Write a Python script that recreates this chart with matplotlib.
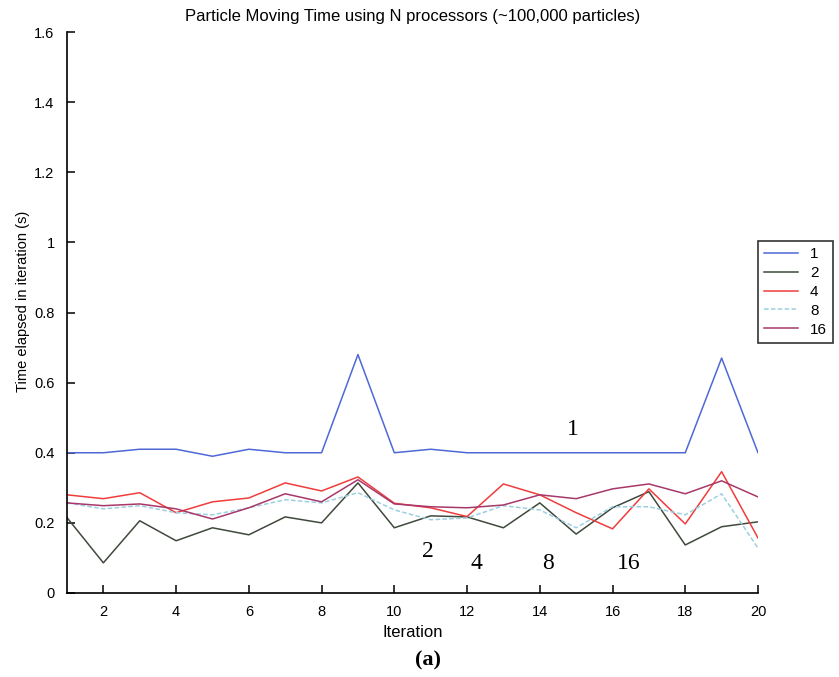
import matplotlib
matplotlib.use("Agg")
import matplotlib.pyplot as plt
import numpy as np

iterations = list(range(1, 21))
t_1 = [0.40, 0.40, 0.41, 0.41, 0.39, 0.41, 0.40, 0.40, 0.68, 0.40,
       0.41, 0.40, 0.40, 0.40, 0.40, 0.40, 0.40, 0.40, 0.67, 0.40]
t_2 = [0.215, 0.086, 0.206, 0.149, 0.186, 0.166, 0.217, 0.20, 0.314, 0.186,
       0.22, 0.217, 0.186, 0.257, 0.168, 0.243, 0.289, 0.137, 0.189, 0.203]
t_4 = [0.28, 0.269, 0.286, 0.229, 0.26, 0.271, 0.314, 0.291, 0.331, 0.256,
       0.243, 0.218, 0.311, 0.28, 0.229, 0.183, 0.297, 0.197, 0.346, 0.157]
t_8 = [0.257, 0.24, 0.249, 0.229, 0.223, 0.243, 0.266, 0.257, 0.286, 0.237,
       0.209, 0.214, 0.249, 0.237, 0.186, 0.246, 0.246, 0.223, 0.283, 0.128]
t_16 = [0.257, 0.249, 0.254, 0.24, 0.211, 0.243, 0.283, 0.26, 0.323, 0.254,
        0.246, 0.243, 0.251, 0.28, 0.269, 0.297, 0.311, 0.283, 0.32, 0.274]

labels = ["1", "2", "4", "8", "16"]
series = [t_1, t_2, t_4, t_8, t_16]
colors = ["#4f68d6", "#3f4a3c", "#f03c3c", "#9ccfe0", "#a8386a"]
styles = ["-", "-", "-", (0, (3, 1.5)), "-"]

ann_text = ["1", "2", "4", "8", "16"]
ann_x = [14.91, 10.93, 12.26, 14.22, 16.45]
ann_y = [0.466, 0.118, 0.085, 0.085, 0.085]

yticks = [0, 0.2, 0.4, 0.6, 0.8, 1.0, 1.2, 1.4, 1.6]
yticklabels = ["0", "0.2", "0.4", "0.6", "0.8", "1", "1.2", "1.4", "1.6"]
xticks = [2, 4, 6, 8, 10, 12, 14, 16, 18, 20]

sans = ["Liberation Sans Narrow", "Liberation Sans", "DejaVu Sans"]
serif = ["Liberation Serif", "DejaVu Serif"]

fig = plt.figure(figsize=(8.39, 6.77), dpi=100)
W, H = 839, 677
ax = fig.add_axes([67 / W, 1 - 593 / H, (758 - 67) / W, (593 - 32) / H])

for lab, ys, c, ls in zip(labels, series, colors, styles):
    ax.plot(iterations, ys, color=c, linestyle=ls, linewidth=1.1, label=lab)

ax.set_xlim(1, 20)
ax.set_ylim(0, 1.6)
ax.set_xticks(xticks)
ax.set_yticks(yticks)
ax.set_yticklabels(yticklabels)
for s in ["top", "right"]:
    ax.spines[s].set_visible(False)
for s in ["left", "bottom"]:
    ax.spines[s].set_linewidth(1.2)
ax.tick_params(direction="in", length=6, width=1.1, labelsize=10.5, pad=9)
for t in ax.get_xticklabels() + ax.get_yticklabels():
    t.set_fontfamily(sans)

ax.set_title("Particle Moving Time using N processors (~100,000 particles)",
             fontsize=12, family=sans, pad=8)
ax.set_xlabel("Iteration", fontsize=12, family=sans, labelpad=4)
ax.set_ylabel("Time elapsed in iteration (s)", fontsize=10.5, family=sans, labelpad=4)
ax.yaxis.set_label_coords(-0.053, 0.52)

for t, x, y in zip(ann_text, ann_x, ann_y):
    ax.text(x, y, t, fontsize=17, family=serif, ha="center", va="center")

fig.text(428 / W, 1 - 660 / H, "(a)", fontsize=16, family=serif,
         fontweight="bold", ha="center", va="center")

leg = ax.legend(loc="upper left", bbox_to_anchor=(758 / W, 1 - 241 / H),
                bbox_transform=fig.transFigure, borderaxespad=0,
                fancybox=False, frameon=True, edgecolor="black",
                handlelength=2.2, labelspacing=0.32, borderpad=0.4,
                prop={"family": sans, "size": 11})
leg.get_frame().set_linewidth(1.2)

fig.savefig("out.png", dpi=100)
